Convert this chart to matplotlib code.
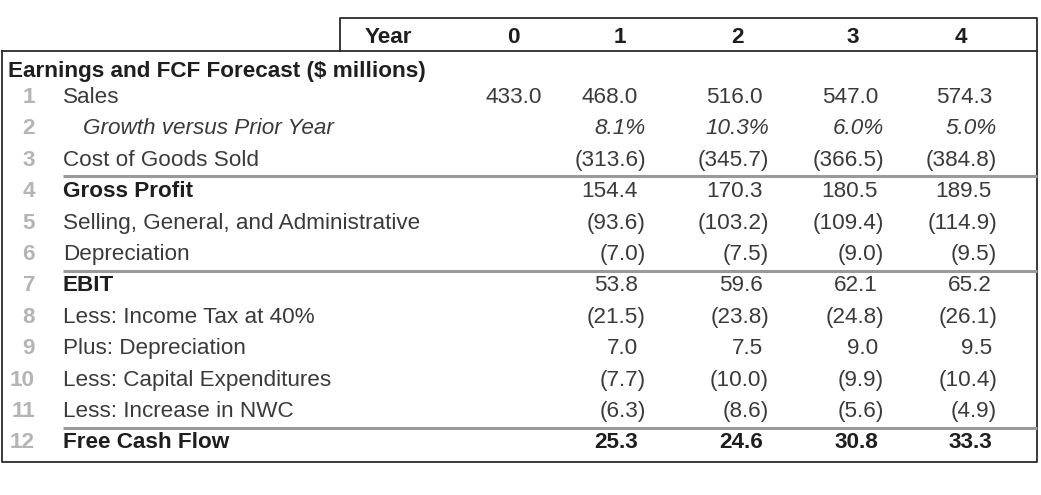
import matplotlib.pyplot as plt

years = ['0', '1', '2', '3', '4']
row_nums = list(range(1, 13))
row_labels = ['Sales', 'Growth versus Prior Year', 'Cost of Goods Sold', 'Gross Profit',
              'Selling, General, and Administrative', 'Depreciation', 'EBIT',
              'Less: Income Tax at 40%', 'Plus: Depreciation', 'Less: Capital Expenditures',
              'Less: Increase in NWC', 'Free Cash Flow']

sales = [433.0, 468.0, 516.0, 547.0, 574.3]
growth = [None, 8.1, 10.3, 6.0, 5.0]
cogs = [None, -313.6, -345.7, -366.5, -384.8]
gross_profit = [None, 154.4, 170.3, 180.5, 189.5]
sga = [None, -93.6, -103.2, -109.4, -114.9]
depreciation = [None, -7.0, -7.5, -9.0, -9.5]
ebit = [None, 53.8, 59.6, 62.1, 65.2]
income_tax = [None, -21.5, -23.8, -24.8, -26.1]
plus_dep = [None, 7.0, 7.5, 9.0, 9.5]
capex = [None, -7.7, -10.0, -9.9, -10.4]
nwc = [None, -6.3, -8.6, -5.6, -4.9]
fcf = [None, 25.3, 24.6, 30.8, 33.3]

rows = [sales, growth, cogs, gross_profit, sga, depreciation, ebit,
        income_tax, plus_dep, capex, nwc, fcf]
bold_rows = [4, 7, 12]
bold_value_rows = [12]
italic_rows = [2]
line_above = [4, 7, 12]

plt.rcParams['font.family'] = ['Liberation Sans', 'DejaVu Sans']
txt = '#3a3a3a'
dark = '#1e1e1e'
fs = 16.2
base = 8  # pixels from visual centre down to baseline

fig = plt.figure(figsize=(10.41, 4.95), dpi=100)
ax = fig.add_axes([0, 0, 1, 1])
ax.set_xlim(0, 1041)
ax.set_ylim(495, 0)
ax.axis('off')

# layout (pixels)
head_centers = [513, 620, 738, 853, 961]
num_right = [542, 638, 763, 878, 992]
paren_right = [549, 646, 769, 884, 997]
row_y0 = 95
row_dy = 31.4

# boxes
ax.plot([340, 340, 1037, 1037], [51, 18, 18, 51], color='#2a2a2a', lw=1.3)
ax.plot([2, 1037, 1037, 2, 2], [51, 51, 462, 462, 51], color='#2a2a2a', lw=1.3)

ax.text(412, 35 + base, 'Year', ha='right', va='baseline', fontsize=fs,
        fontweight='bold', color=dark)
for c, yr in enumerate(years):
    ax.text(head_centers[c], 35 + base, yr, ha='center', va='baseline', fontsize=fs,
            fontweight='bold', color=dark)

ax.text(8, 69 + base, 'Earnings and FCF Forecast ($ millions)', ha='left', va='baseline',
        fontsize=fs, fontweight='bold', color=dark)

for i, (n, lab, vals) in enumerate(zip(row_nums, row_labels, rows)):
    y = row_y0 + i * row_dy
    if n in line_above:
        ax.plot([63, 1037], [y - 12.8, y - 12.8], color='#9a9a9a', lw=2.2,
                solid_capstyle='butt')
    ax.text(35, y + base, str(n), ha='right', va='baseline', fontsize=fs,
            fontweight='bold', color='#b4b4b4')
    weight = 'bold' if n in bold_rows else 'normal'
    style = 'italic' if n in italic_rows else 'normal'
    x_lab = 83 if n in italic_rows else 63
    ax.text(x_lab, y + base, lab, ha='left', va='baseline', fontsize=fs, fontweight=weight,
            fontstyle=style, color=dark if n in bold_rows else txt)
    vweight = 'bold' if n in bold_value_rows else 'normal'
    for c, v in enumerate(vals):
        if v is None:
            continue
        if n in italic_rows:
            s, x = f'{v:.1f}%', paren_right[c]
        elif v < 0:
            s, x = f'({abs(v):.1f})', paren_right[c]
        else:
            s, x = f'{v:.1f}', num_right[c]
        ax.text(x, y + base, s, ha='right', va='baseline', fontsize=fs, fontweight=vweight,
                fontstyle=style, color=dark if n in bold_value_rows else txt)

fig.savefig('out.png', dpi=100)
